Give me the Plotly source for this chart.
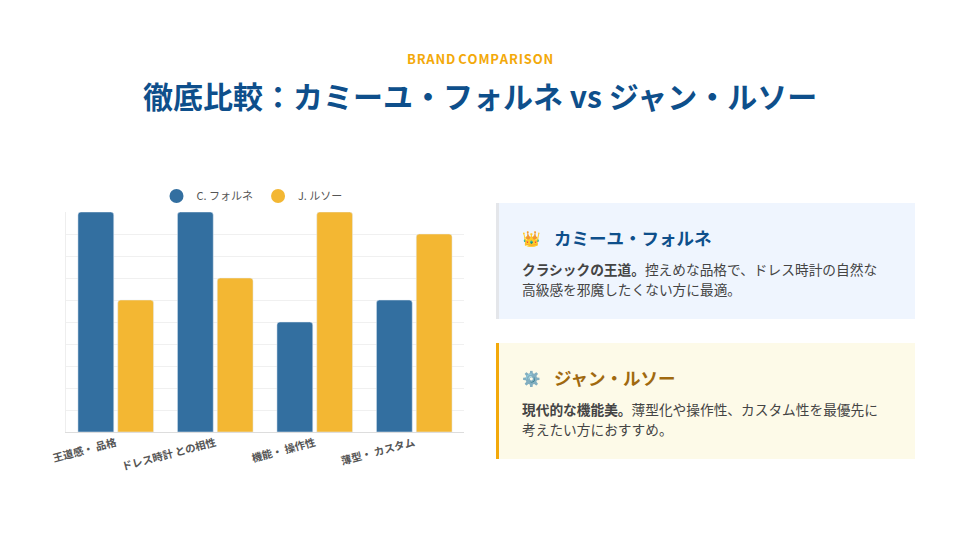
import plotly.graph_objects as go

categories = ["王道感・ 品格", "ドレス時計 との相性", "機能・ 操作性", "薄型・ カスタム"]
fornet = [10, 10, 5, 6]
rousseau = [6, 7, 10, 9]
names = ["C. フォルネ", "J. ルソー"]
BLUE = "#336fa0"; GOLD = "#f3b733"
F = "Noto Sans CJK JP"
W, H, OFF = 944, 524, 8

def px(x): return (x - OFF) / W
def py(y): return 1 - (y - OFF) / H

fig = go.Figure()
fig.add_bar(x=categories, y=fornet, marker_color=BLUE, showlegend=False)
fig.add_bar(x=categories, y=rousseau, marker_color=GOLD, showlegend=False)
for n, c in zip(names, [BLUE, GOLD]):
    fig.add_scatter(x=[None], y=[None], mode="markers", name=n,
                    marker=dict(color=c, size=14, symbol="circle"))

fig.update_layout(
    width=W, height=H, margin=dict(l=0, r=0, t=0, b=0),
    paper_bgcolor="white", plot_bgcolor="white",
    font=dict(family=F, color="#555"),
    barmode="group", bargap=0.2, bargroupgap=0.1, barcornerradius=3,
    xaxis=dict(domain=[px(66), px(464)], showgrid=False, showline=True, linecolor="#ddd",
               automargin=False, tickangle=-15,
               tickfont=dict(size=10.5, color="#555", family=F, weight="bold"), ticks=""),
    yaxis=dict(domain=[py(432), py(212)], range=[0, 10], dtick=1, showticklabels=False,
               automargin=False, gridcolor="#f0f0f0", showline=True, linecolor="#eee", zeroline=False),
    legend=dict(orientation="h", x=px(252), xanchor="center", y=py(196), yanchor="middle",
                font=dict(size=11, color="#555"), itemwidth=30, traceorder="normal"),
    showlegend=True,
)

def card(y0, y1, fill, bar):
    fig.add_shape(type="rect", xref="paper", yref="paper", x0=px(496), x1=px(915), y0=py(y1), y1=py(y0),
                  fillcolor=fill, line_width=0, layer="below")
    fig.add_shape(type="rect", xref="paper", yref="paper", x0=px(496), x1=px(499), y0=py(y1), y1=py(y0),
                  fillcolor=bar, line_width=0)

card(203, 319, "#eff5fe", "#e4e6ea")
card(343, 459, "#fdfae8", "#f3a90a")

def ann(x, y, text, size, color, bold=False, anchor="left"):
    if bold:
        text = "<b>" + text + "</b>"
    fig.add_annotation(xref="paper", yref="paper", x=px(x), y=py(y), text=text, showarrow=False,
                       xanchor=anchor, yanchor="middle", align="left",
                       font=dict(size=size, color=color, family=F))

sp = "&#8202;"
ann(480, 59, sp.join("BRAND") + " " + sp.join("COMPARISON"), 13, "#f3a90a", True, "center")
ann(480, 95, "徹底比較：カミーユ・フォルネ vs ジャン・ルソー", 30, "#0e4f8b", True, "center")
ann(520, 237, "👑", 15, "#333")
ann(552, 237, "カミーユ・フォルネ", 17.5, "#0e4f8b", True)
ann(520, 269, "<b>クラシックの王道。</b>控えめな品格で、ドレス時計の自然な", 13.7, "#444")
ann(520, 289, "高級感を邪魔したくない方に最適。", 13.7, "#444")
ann(520, 377, "⚙️", 15, "#888")
ann(552, 377, "ジャン・ルソー", 17.5, "#a0690f", True)
ann(520, 409, "<b>現代的な機能美。</b>薄型化や操作性、カスタム性を最優先に", 13.7, "#444")
ann(520, 429, "考えたい方におすすめ。", 13.7, "#444")

fig.write_html("out.html")
